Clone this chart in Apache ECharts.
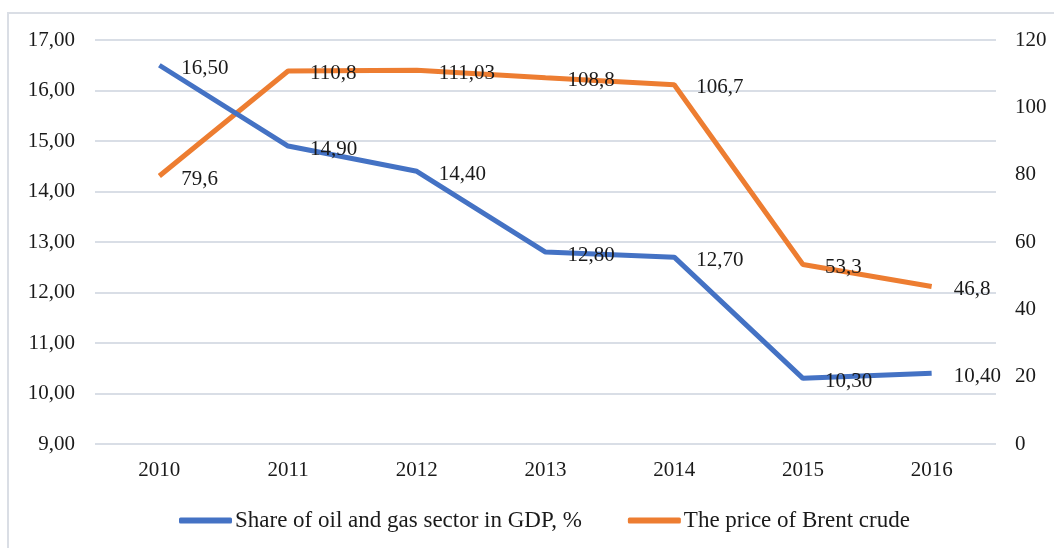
<!DOCTYPE html>
<html>
<head>
<meta charset="utf-8">
<script src="https://cdn.jsdelivr.net/npm/echarts@6/dist/echarts.min.js"></script>
<style>
  html, body { margin: 0; padding: 0; background: #fff; }
  #chart { width: 1054px; height: 548px; }
</style>
</head>
<body>
<div id="chart"></div>
<script>
  // values
  const years = ['2010', '2011', '2012', '2013', '2014', '2015', '2016'];
  const oilGasShare = [16.50, 14.90, 14.40, 12.80, 12.70, 10.30, 10.40];
  const brentPrice = [79.6, 110.8, 111.03, 108.8, 106.7, 53.3, 46.8];
  const shareName = 'Share of oil and gas sector in GDP, %';
  const brentName = 'The price of Brent crude';

  const font = '"Liberation Serif", "Times New Roman", serif';
  const textColor = '#1a1a1a';

  const comma = v => String(v).replace('.', ',');

  const chart = echarts.init(document.getElementById('chart'));

  const labelStyle = {
    show: true,
    position: 'right',
    distance: 22,
    offset: [0, 3],
    color: textColor,
    fontFamily: font,
    fontSize: 21
  };

  const option = {
    animation: false,
    color: ['#4472C4', '#ED7D31'],
    textStyle: { fontFamily: font },
    graphic: [{
      type: 'rect',
      shape: { x: 8, y: 13, width: 1100, height: 600 },
      style: { fill: 'none', stroke: '#dadee5', lineWidth: 2 },
      silent: true
    }],
    grid: { left: 95, right: 58, top: 40, bottom: 104 },
    legend: {
      bottom: 11,
      left: 174,
      itemWidth: 53,
      itemHeight: 6,
      itemGap: 46,
      icon: 'roundRect',
      textStyle: { color: textColor, fontFamily: font, fontSize: 23, padding: [0, 0, 0, -2] },
      data: [shareName, brentName]
    },
    xAxis: {
      type: 'category',
      data: years,
      boundaryGap: true,
      axisLine: { show: false },
      axisTick: { show: false },
      axisLabel: { color: textColor, fontFamily: font, fontSize: 21, margin: 16 }
    },
    yAxis: [{
      type: 'value',
      min: 9,
      max: 17,
      interval: 1,
      axisLine: { show: false },
      axisTick: { show: false },
      splitLine: { lineStyle: { color: '#d9dee6', width: 2 } },
      axisLabel: {
        color: textColor, fontFamily: font, fontSize: 21, margin: 20,
        formatter: v => v.toFixed(2).replace('.', ',')
      }
    }, {
      type: 'value',
      min: 0,
      max: 120,
      interval: 20,
      axisLine: { show: false },
      axisTick: { show: false },
      splitLine: { show: false },
      axisLabel: { color: textColor, fontFamily: font, fontSize: 21, margin: 19 }
    }],
    series: [{
      name: shareName,
      type: 'line',
      yAxisIndex: 0,
      data: oilGasShare,
      showSymbol: true,
      symbol: 'circle',
      symbolSize: 0,
      lineStyle: { width: 5 },
      label: Object.assign({}, labelStyle, {
        formatter: p => p.value.toFixed(2).replace('.', ',')
      }),
      z: 3
    }, {
      name: brentName,
      type: 'line',
      yAxisIndex: 1,
      data: brentPrice,
      showSymbol: true,
      symbol: 'circle',
      symbolSize: 0,
      lineStyle: { width: 5 },
      label: Object.assign({}, labelStyle, {
        formatter: p => comma(p.value)
      }),
      z: 2
    }]
  };

  chart.setOption(option);
</script>
</body>
</html>
